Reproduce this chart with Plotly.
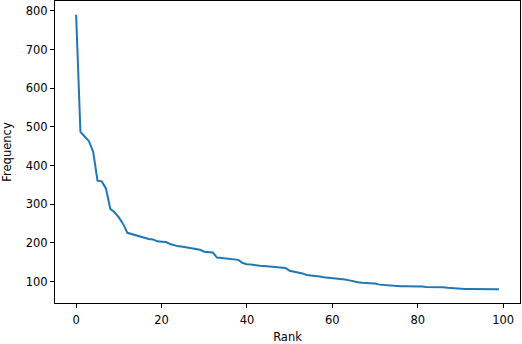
import plotly.graph_objects as go

# word frequency by rank
rank = list(range(100))
frequency = [
    790, 487, 475, 463, 435, 361, 359, 340, 288, 279,
    266, 249, 226, 223, 218, 216, 214, 210, 209, 204,
    203, 202, 197, 193, 191, 190, 188, 186, 185, 182,
    177, 176, 175, 162, 161, 160, 158, 157, 156, 148,
    145, 144, 142, 141, 140, 139, 138, 137, 136, 135,
    128, 126, 124, 121, 117, 116, 115, 113, 111, 110,
    108, 107, 106, 105, 103, 100, 98, 97, 96, 96,
    95, 92, 91, 91, 90, 89, 88, 88, 88, 87,
    87, 87, 86, 86, 86, 86, 85, 84, 83, 82,
    81, 81, 81, 81, 80, 80, 80, 80, 80, 80,
]
x_ticks = [0, 20, 40, 60, 80, 100]
y_ticks = [100, 200, 300, 400, 500, 600, 700, 800]

# matplotlib-like 5% padding around the data
def padded(vals):
    lo, hi = min(vals), max(vals)
    pad = (hi - lo) * 0.05
    return [lo - pad, hi + pad]

font = dict(family="DejaVu Sans", size=11.5, color="black")

fig = go.Figure()
fig.add_trace(go.Scatter(
    x=rank, y=frequency, mode="lines",
    line=dict(color="#1f77b4", width=2),
    showlegend=False,
))

axis_style = dict(
    showgrid=False, zeroline=False, automargin=False,
    showline=True, linecolor="black", linewidth=1, mirror=True,
    ticks="outside", ticklen=4, tickwidth=1, tickcolor="black",
    tickfont=font,
)

fig.update_xaxes(
    range=padded(rank), tickvals=x_ticks, ticklabelstandoff=2,
    title=dict(text="Rank", font=font, standoff=8),
    **axis_style,
)
fig.update_yaxes(
    range=padded(frequency), tickvals=y_ticks,
    title=dict(text="Frequency", font=font, standoff=12),
    **axis_style,
)

fig.update_layout(
    width=522, height=344,
    margin=dict(l=55, r=2, t=1, b=41),
    paper_bgcolor="white", plot_bgcolor="white",
    font=font,
)

# drop the browser's default body margin so the figure fills the window
fig.write_html("out.html", config={"displayModeBar": False},
               post_script="document.body.style.margin='0';")
